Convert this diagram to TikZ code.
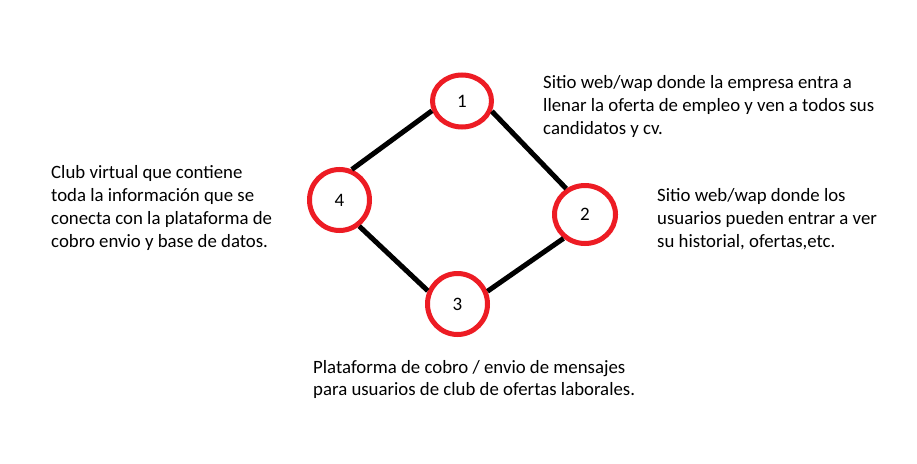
\documentclass[tikz,border=0pt]{standalone}
\usepackage{fontspec}
\setmainfont{Carlito}
\usetikzlibrary{shapes.geometric}
\definecolor{ringred}{RGB}{237,28,36}
\begin{document}
\begin{tikzpicture}[x=1pt,y=-1pt,
  ring/.style={ellipse,draw=ringred,line width=5pt,inner sep=0pt,font=\fontsize{19}{23}\selectfont},
  link/.style={line width=5pt,draw=black},
  txt/.style={anchor=base west,align=left,inner sep=0pt,font=\fontsize{18.8}{23}\selectfont}]
\useasboundingbox[fill=white] (0,0) rectangle (917,463);
\node[ring,minimum width=59pt,minimum height=52pt] (n1) at (462,101) {1};
\node[ring,minimum width=61pt,minimum height=58pt] (n2) at (585,214.5) {2};
\node[ring,minimum width=60pt,minimum height=61pt] (n3) at (457.5,304) {3};
\node[ring,minimum width=60pt,minimum height=61pt] (n4) at (339.5,200) {4};
\draw[link] (n1.198) -- (n4.68);
\draw[link] (n1.341) -- (n2.126);
\draw[link] (n4.307) -- (n3.156);
\draw[link] (n3.23) -- (n2.228);
\node[txt] (t1) at (543,134) {Sitio web/wap donde la empresa entra a\\llenar la oferta de empleo y ven a todos sus\\candidatos y cv.};
\node[txt] (t2) at (657,247) {Sitio web/wap donde los\\usuarios pueden entrar a ver\\su historial, ofertas,etc.};
\node[txt] (t3) at (51,247) {Club virtual que contiene\\toda la información que se\\conecta con la plataforma de\\cobro envio y base de datos.};
\node[txt,font=\fontsize{18.8}{22}\selectfont] (t4) at (313,395) {Plataforma de cobro / envio de mensajes\\para usuarios de club de ofertas laborales.};
\end{tikzpicture}
\end{document}
